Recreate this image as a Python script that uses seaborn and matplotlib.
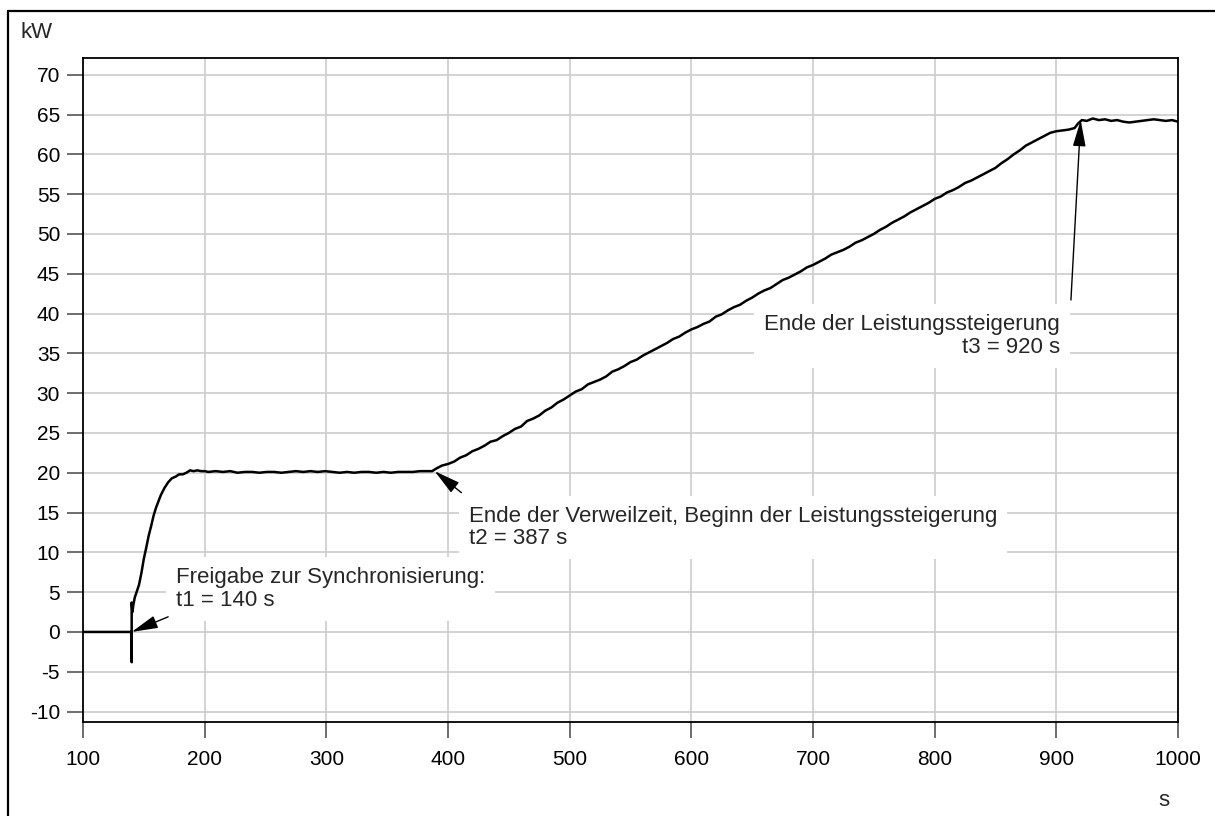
import matplotlib
matplotlib.use("Agg")
import matplotlib.pyplot as plt
import seaborn as sns
import pandas as pd
from matplotlib.lines import Line2D

# ---- data ----
time_s = [100, 120, 139.6, 140, 140, 140.6, 141.3, 142.5, 144, 146, 148, 150, 152, 154, 156, 158,
          160, 162, 164, 167, 170, 173, 176, 179, 182, 185, 188, 191, 194, 197, 200,
          203, 209, 215, 221, 227, 233, 239, 245, 251, 257, 263, 269, 275, 281, 287, 293, 299,
          305, 311, 317, 323, 329, 335, 341, 347, 353, 359, 365, 371, 377, 383, 387,
          390, 395, 400, 405, 410, 415, 420, 425, 430, 435, 440, 445, 450, 455, 460, 465,
          470, 475, 480, 485, 490, 495, 500, 505, 510, 515, 520, 525, 530, 535, 540, 545,
          550, 555, 560, 565, 570, 575, 580, 585, 590, 595, 600, 605, 610, 615, 620, 625,
          630, 635, 640, 645, 650, 655, 660, 665, 670, 675, 680, 685, 690, 695, 700, 705,
          710, 715, 720, 725, 730, 735, 740, 745, 750, 755, 760, 765, 770, 775, 780, 785,
          790, 795, 800, 805, 810, 815, 820, 825, 830, 835, 840, 845, 850, 855, 860, 865,
          870, 875, 880, 885, 890, 895, 900, 905, 910, 915, 918, 921, 925, 930, 935, 940,
          945, 950, 955, 960, 965, 970, 975, 980, 985, 990, 995, 1000]
power_kw = [0, 0, 0, -3.8, 3.7, 2.5, 3.3, 4.3, 5.0, 5.9, 7.4, 9.2, 10.6, 12.1, 13.3, 14.6,
            15.6, 16.4, 17.2, 18.1, 18.8, 19.3, 19.5, 19.8, 19.8, 20.0, 20.3, 20.2, 20.3, 20.2, 20.2,
            20.1, 20.2, 20.1, 20.2, 20.0, 20.1, 20.1, 20.0, 20.1, 20.1, 20.0, 20.1, 20.2, 20.1, 20.2, 20.1, 20.2,
            20.1, 20.0, 20.1, 20.0, 20.1, 20.1, 20.0, 20.1, 20.0, 20.1, 20.1, 20.1, 20.2, 20.2, 20.2,
            20.5, 20.9, 21.1, 21.4, 21.9, 22.2, 22.7, 23.0, 23.4, 23.9, 24.1, 24.6, 25.0, 25.5, 25.8, 26.5,
            26.8, 27.2, 27.8, 28.2, 28.8, 29.2, 29.7, 30.2, 30.5, 31.1, 31.4, 31.7, 32.1, 32.7, 33.0, 33.4,
            33.9, 34.2, 34.7, 35.1, 35.5, 35.9, 36.3, 36.8, 37.1, 37.6, 38.0, 38.3, 38.7, 39.0, 39.6, 39.9,
            40.4, 40.8, 41.1, 41.6, 42.0, 42.5, 42.9, 43.2, 43.7, 44.2, 44.5, 44.9, 45.3, 45.8, 46.1, 46.5,
            46.9, 47.4, 47.7, 48.0, 48.4, 48.9, 49.2, 49.6, 50.0, 50.5, 50.9, 51.4, 51.8, 52.2, 52.7, 53.1,
            53.5, 53.9, 54.4, 54.7, 55.2, 55.5, 55.9, 56.4, 56.7, 57.1, 57.5, 57.9, 58.3, 58.9, 59.4, 60.0,
            60.5, 61.1, 61.5, 61.9, 62.3, 62.7, 62.9, 63.0, 63.1, 63.3, 63.9, 64.3, 64.2, 64.5, 64.3, 64.4,
            64.2, 64.3, 64.1, 64.0, 64.1, 64.2, 64.3, 64.4, 64.3, 64.2, 64.3, 64.1]

x_ticks = list(range(100, 1001, 100))
y_ticks = list(range(-10, 71, 5))

ann_text = ["Freigabe zur Synchronisierung:\nt1 = 140 s",
            "Ende der Verweilzeit, Beginn der Leistungssteigerung\nt2 = 387 s",
            "Ende der Leistungssteigerung\nt3 = 920 s"]
ann_point = [(140, 0.0), (389, 20.2), (920, 64.3)]
ann_tail = [(170, 1.9), (411, 17.5), (912, 41.7)]
ann_textpos = [(176.4, 5.4), (417.3, 13.1), (903.0, 37.2)]
ann_ha = ["left", "left", "right"]

# ---- style ----
sns.set_style("whitegrid")
plt.rcParams['font.family'] = ['Liberation Sans', 'DejaVu Sans']
plt.rcParams['axes.unicode_minus'] = False

fig = plt.figure(figsize=(12.15, 8.16), dpi=100)
ax = fig.add_axes([83/1215, 1 - 721.5/816, (1178-83)/1215, (721.5-58)/816])

df = pd.DataFrame({"t": time_s, "P": power_kw})
sns.lineplot(data=df, x="t", y="P", estimator=None, sort=False, color="black",
             linewidth=1.8, ax=ax, zorder=5)

ax.set_xlim(100, 1000)
ax.set_ylim(-11.25, 72.1)
ax.set_xticks(x_ticks)
ax.set_yticks(y_ticks)
ax.set_xlabel("")
ax.set_ylabel("")
ax.grid(True, color="#cccccc", linewidth=1.2)
ax.set_axisbelow(True)
for sp in ax.spines.values():
    sp.set_visible(True)
    sp.set_color("black")
    sp.set_linewidth(1.3)
ax.tick_params(axis="both", which="major", direction="out", length=11.5, width=1.2,
               color="#555555", labelsize=15, labelcolor="black")
ax.tick_params(axis="x", pad=9)
ax.tick_params(axis="y", pad=5, left=True)
ax.tick_params(axis="x", bottom=True)

for txt, pt, tail, tp, ha in zip(ann_text, ann_point, ann_tail, ann_textpos, ann_ha):
    ax.text(tp[0], tp[1], txt, ha=ha, va="center", multialignment=ha, fontsize=16,
            linespacing=1.1, zorder=3,
            bbox=dict(facecolor="white", edgecolor="none", boxstyle="square,pad=0.45"))
    ax.annotate("", xy=pt, xytext=tail,
                arrowprops=dict(arrowstyle="-|>,head_length=0.9,head_width=0.22",
                                color="black", lw=1.0, shrinkA=0, shrinkB=0,
                                mutation_scale=18),
                zorder=6)

fig.text(20/1215, 1 - 33/816, "kW", ha="left", va="center", fontsize=16)
fig.text(1164/1215, 1 - 801/816, "s", ha="center", va="center", fontsize=16)

# outer frame (top and left edges visible in the reference)
fig.add_artist(Line2D([8/1215, 8/1215], [0, 1 - 11/816], transform=fig.transFigure,
                      color="black", linewidth=1.6))
fig.add_artist(Line2D([8/1215, 1], [1 - 11/816, 1 - 11/816], transform=fig.transFigure,
                      color="black", linewidth=1.6))

fig.savefig("out.png", dpi=100, facecolor="white")
